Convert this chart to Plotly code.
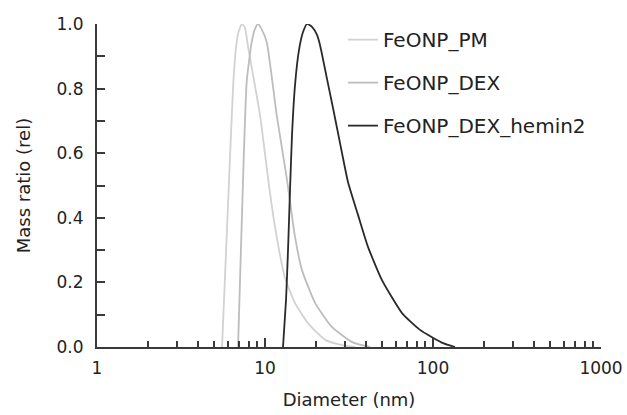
import plotly.graph_objects as go

# values (diameter in nm, relative mass ratio)
pm_diam = [5.55, 6.11, 6.48, 6.78, 7.0, 7.3, 7.6, 7.95, 9.34, 10.46, 11.47, 13.15, 15.1, 18.0, 22.8, 28.7, 34.3]
pm_ratio = [0, 0.517, 0.82, 0.944, 0.98, 1.0, 0.988, 0.926, 0.718, 0.517, 0.372, 0.214, 0.136, 0.074, 0.022, 0.006, 0]

dex_diam = [6.91, 7.40, 7.78, 8.33, 8.72, 9.09, 9.53, 10.24, 11.74, 13.5, 15.1, 16.6, 19.9, 25.0, 33.0, 42.2]
dex_ratio = [0, 0.517, 0.82, 0.944, 0.985, 1.0, 0.985, 0.944, 0.718, 0.52, 0.34, 0.238, 0.136, 0.062, 0.015, 0]

hem_diam = [12.8, 13.34, 13.71, 14.09, 14.48, 15.09, 15.94, 16.84, 17.8, 19.05, 20.39, 21.25, 23.08, 25.4,
            27.95, 31.19, 35.78, 41.03, 49.7, 65.39, 83.68, 114.7, 135.2]
hem_ratio = [0, 0.146, 0.30, 0.486, 0.656, 0.811, 0.92, 0.975, 1.0, 0.991, 0.966, 0.935, 0.845, 0.74,
             0.632, 0.511, 0.409, 0.31, 0.207, 0.105, 0.053, 0.012, 0]

series = [
    ("FeONP_PM", pm_diam, pm_ratio, "#d2d2d2"),
    ("FeONP_DEX", dex_diam, dex_ratio, "#bdbdbd"),
    ("FeONP_DEX_hemin2", hem_diam, hem_ratio, "#2a2a2a"),
]

x_major = [1, 10, 100, 1000]
x_minor = [m * d for d in [1, 10, 100] for m in range(2, 10)]
y_major = [0, 0.2, 0.4, 0.6, 0.8, 1.0]
y_minor = [0.1, 0.3, 0.5, 0.7, 0.9]

FONT = "DejaVu Sans, sans-serif"
AX = "#3a3a3a"
TXT = "#222"

fig = go.Figure()
for name, xs, ys, col in series:
    fig.add_trace(go.Scatter(
        x=xs, y=ys, name=name, mode="lines", legendgroup=name,
        line=dict(color=col, width=1.8, shape="spline", smoothing=0.5),
    ))

fig.update_layout(
    width=627, height=415,
    margin=dict(l=97, r=26, t=24, b=68),
    paper_bgcolor="white", plot_bgcolor="white",
    font=dict(family=FONT, size=17, color=TXT),
    showlegend=True,
    legend=dict(
        x=0.488, y=1.012, xanchor="left", yanchor="top",
        bgcolor="rgba(0,0,0,0)", tracegroupgap=14,
        font=dict(size=20, color=TXT), itemwidth=30,
    ),
)

fig.update_xaxes(
    type="log", range=[0, 3], automargin=False,
    showline=True, linecolor=AX, linewidth=2, showgrid=False, zeroline=False,
    tickmode="array", tickvals=x_major, ticktext=[str(v) for v in x_major],
    ticks="inside", ticklen=9, tickwidth=1.5, tickcolor=AX,
    ticklabelstandoff=5,
    minor=dict(tickvals=x_minor, ticks="inside", ticklen=6, tickwidth=1.5, tickcolor=AX, showgrid=False),
    tickfont=dict(size=17, color=TXT),
    title=dict(text="Diameter (nm)", font=dict(size=18, color=TXT), standoff=16),
)
fig.update_yaxes(
    range=[0, 1.0], automargin=False,
    showline=True, linecolor=AX, linewidth=2, showgrid=False, zeroline=False,
    tickmode="array", tickvals=y_major, ticktext=["%.1f" % v for v in y_major],
    ticks="inside", ticklen=8, tickwidth=1.5, tickcolor=AX,
    ticklabelstandoff=8,
    minor=dict(tickvals=y_minor, ticks="inside", ticklen=8, tickwidth=1.5, tickcolor=AX, showgrid=False),
    tickfont=dict(size=17, color=TXT),
    title=dict(text="Mass ratio (rel)", font=dict(size=18, color=TXT), standoff=21),
)

# drop the default 8px body margin so the full-size figure fits the window
fig.write_html("out.html", config={"displayModeBar": False},
               post_script="document.body.style.margin='0';")
